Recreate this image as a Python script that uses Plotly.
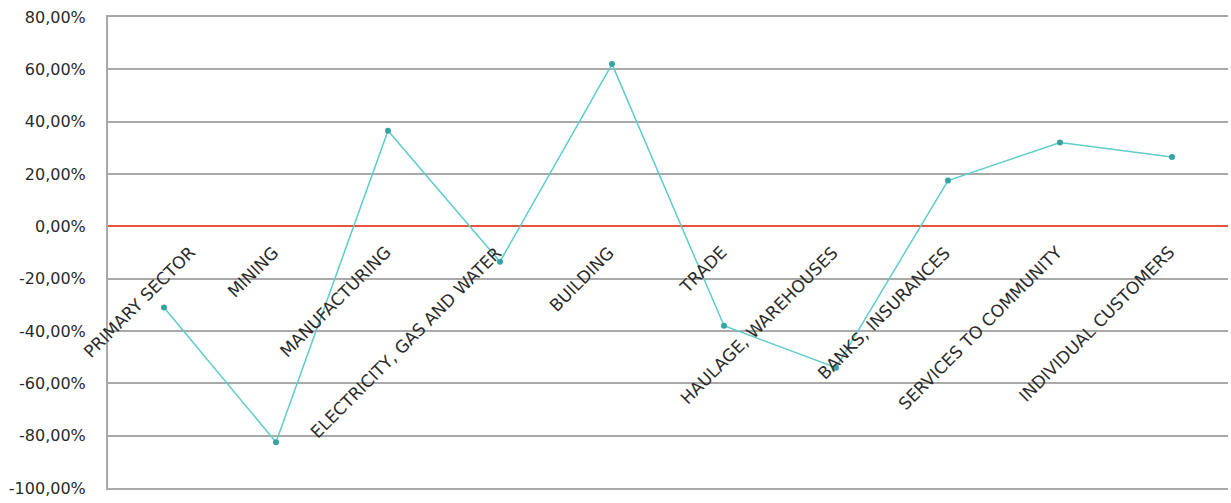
import plotly.graph_objects as go

# Sector categories along the x axis
sectors = [
    "PRIMARY SECTOR",
    "MINING",
    "MANUFACTURING",
    "ELECTRICITY, GAS AND WATER",
    "BUILDING",
    "TRADE",
    "HAULAGE, WAREHOUSES",
    "BANKS, INSURANCES",
    "SERVICES TO COMMUNITY",
    "INDIVIDUAL CUSTOMERS",
]

# Percentage change per sector
change_pct = [-31.0, -82.5, 36.5, -13.5, 62.0, -38.0, -54.0, 17.5, 32.0, 26.5]

# Y axis ticks and their labels
y_ticks = [-100, -80, -60, -40, -20, 0, 20, 40, 60, 80]
y_tick_labels = ["-100,00%", "-80,00%", "-60,00%", "-40,00%", "-20,00%",
                 "0,00%", "20,00%", "40,00%", "60,00%", "80,00%"]

FONT = "DejaVu Sans"
GRID = "#a9a9a9"
TEXT = "#2a2a2a"

fig = go.Figure()

fig.add_trace(go.Scatter(
    x=sectors,
    y=change_pct,
    mode="lines+markers",
    line=dict(color="#5ecccb", width=1.5),
    marker=dict(color="#38a3a3", size=6),
    hoverinfo="x+y",
    showlegend=False,
))

# Category labels sit just below the zero line, slanted upward;
# the first one is nudged right so it stays clear of the axis labels
for i, name in enumerate(sectors):
    fig.add_annotation(
        x=name, y=0, xref="x", yref="y",
        text=name, showarrow=False,
        textangle=-45,
        xanchor="right", yanchor="top",
        xshift=38 if i == 0 else 9, yshift=-13,
        font=dict(family=FONT, size=17, color=TEXT),
    )

fig.update_layout(
    width=1231, height=503,
    margin=dict(l=108, r=3, t=17, b=15),
    paper_bgcolor="white",
    plot_bgcolor="white",
    font=dict(family=FONT, size=16, color=TEXT),
    xaxis=dict(
        type="category",
        range=[-0.5, len(sectors) - 0.5],
        showticklabels=False,
        showgrid=False,
        zeroline=False,
        showline=True, mirror=True,
        linecolor=GRID, linewidth=2,
        ticks="",
    ),
    yaxis=dict(
        range=[-100, 80],
        tickvals=y_ticks,
        ticktext=y_tick_labels,
        showgrid=True, gridcolor=GRID, gridwidth=2,
        zeroline=True, zerolinecolor="#e5553a", zerolinewidth=2,
        showline=True, mirror=False,
        linecolor=GRID, linewidth=2,
        ticks="", ticklabelstandoff=17,
        tickfont=dict(family=FONT, size=16, color=TEXT),
    ),
)

fig.write_html("out.html")
